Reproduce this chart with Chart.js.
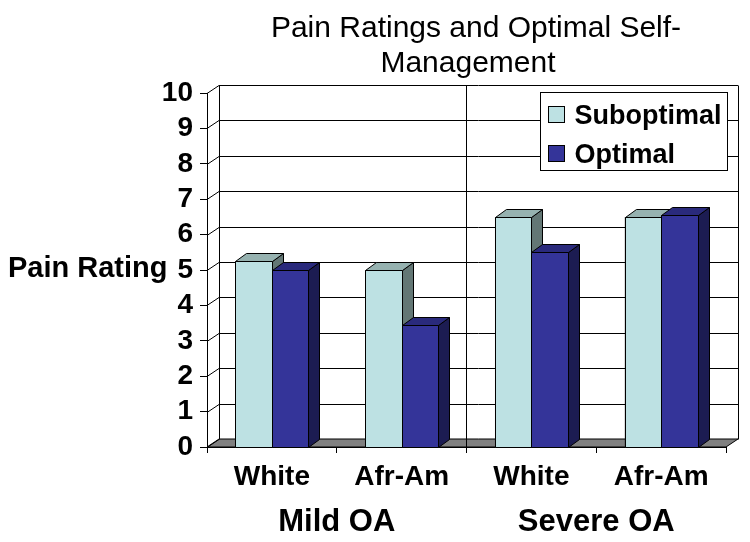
<!DOCTYPE html>
<html>
<head>
<meta charset="utf-8">
<script src="https://cdn.jsdelivr.net/npm/chart.js@4.4.1/dist/chart.umd.min.js"></script>
<style>
  html, body { margin: 0; padding: 0; background: #fff; }
</style>
</head>
<body>
<canvas id="c" width="750" height="542"></canvas>
<script>
// data
var categories = ['White', 'Afr-Am', 'White', 'Afr-Am'];
var groups = ['Mild OA', 'Severe OA'];
var seriesNames = ['Suboptimal', 'Optimal'];
var suboptimal = [5.25, 5.0, 6.5, 6.5];
var optimal = [5.0, 3.45, 5.5, 6.55];
var yTicks = [0, 1, 2, 3, 4, 5, 6, 7, 8, 9, 10];
var titleLines = ['Pain Ratings and Optimal Self-', 'Management'];
var yTitle = 'Pain Rating';

var FONT = "'Liberation Sans', Arial, Helvetica, sans-serif";
// wall depth and bar depth (pixels)
var DX = 12, DY = 8;
var BX = 11, BY = 8;
var faces = [
  { front: '#bde1e3', top: '#96b2b0', side: '#637775' },
  { front: '#343499', top: '#2a2a7c', side: '#1c1c52' }
];

function line(ctx, x1, y1, x2, y2) {
  ctx.beginPath();
  ctx.moveTo(x1, y1);
  ctx.lineTo(x2, y2);
  ctx.stroke();
}

function poly(ctx, pts, fill) {
  ctx.beginPath();
  ctx.moveTo(pts[0][0], pts[0][1]);
  for (var i = 1; i < pts.length; i++) ctx.lineTo(pts[i][0], pts[i][1]);
  ctx.closePath();
  ctx.fillStyle = fill;
  ctx.fill();
  ctx.stroke();
}

var depth3d = {
  id: 'depth3d',
  beforeDatasetsDraw: function (chart) {
    var ctx = chart.ctx, a = chart.chartArea;
    var ys = chart.scales.y, xs = chart.scales.x;
    ctx.save();
    ctx.lineWidth = 1;
    ctx.strokeStyle = '#000';
    // floor
    poly(ctx, [[a.left, a.bottom], [a.right, a.bottom], [a.right + DX, a.bottom - DY], [a.left + DX, a.bottom - DY]], '#808080');
    // grid on side wall + back wall
    yTicks.forEach(function (v) {
      var py = Math.round(ys.getPixelForValue(v)) + 0.5;
      line(ctx, a.left, py, a.left + DX, py - DY);
      if (v > 0) line(ctx, a.left + DX, py - DY, a.right + DX, py - DY);
    });
    var top = Math.round(a.top) + 0.5 - DY, bot = Math.round(a.bottom) + 0.5 - DY;
    line(ctx, a.left + DX + 0.5, top, a.left + DX + 0.5, bot);
    line(ctx, a.right + DX + 0.5, top, a.right + DX + 0.5, bot);
    // divider between the two groups
    var mid = Math.round((xs.getPixelForValue(1) + xs.getPixelForValue(2)) / 2) - 0.5;
    line(ctx, mid, top, mid, a.bottom);
    ctx.restore();
  },
  afterDatasetsDraw: function (chart) {
    var ctx = chart.ctx;
    ctx.save();
    ctx.lineWidth = 1;
    ctx.strokeStyle = '#000';
    for (var i = 0; i < categories.length; i++) {
      for (var d = 0; d < chart.data.datasets.length; d++) {
        var el = chart.getDatasetMeta(d).data[i];
        var p = el.getProps(['x', 'y', 'base', 'width'], true);
        var l = Math.round(p.x - p.width / 2) + 0.5, r = Math.round(p.x + p.width / 2) + 0.5;
        var t = Math.round(p.y) + 0.5, b = Math.round(p.base) + 0.5;
        var f = faces[d];
        poly(ctx, [[r, b], [r + BX, b - BY], [r + BX, t - BY], [r, t]], f.side);
        poly(ctx, [[l, t], [r, t], [r + BX, t - BY], [l + BX, t - BY]], f.top);
        poly(ctx, [[l, t], [r, t], [r, b], [l, b]], f.front);
      }
    }
    ctx.restore();
  },
  afterDraw: function (chart) {
    var ctx = chart.ctx, a = chart.chartArea;
    ctx.save();
    ctx.fillStyle = '#000';
    ctx.textBaseline = 'alphabetic';
    // title
    ctx.font = '30px ' + FONT;
    ctx.textAlign = 'center';
    ctx.fillText(titleLines[0], 476, 37);
    ctx.fillText(titleLines[1], 468, 72);
    // y axis title, horizontal
    ctx.font = 'bold 29px ' + FONT;
    ctx.textAlign = 'left';
    ctx.fillText(yTitle, 8, 277);
    // legend box
    var lx = 540.5, ly = Math.round(a.top) - 0.5, lw = 187, lh = 78;
    ctx.fillStyle = '#fff';
    ctx.fillRect(lx, ly, lw, lh);
    ctx.strokeStyle = '#000';
    ctx.lineWidth = 1;
    ctx.strokeRect(lx, ly, lw, lh);
    ctx.font = 'bold 27px ' + FONT;
    chart.data.datasets.forEach(function (ds, k) {
      var sy = ly + 14 + k * 39;
      ctx.fillStyle = faces[k].front;
      ctx.fillRect(lx + 8, sy, 16, 16);
      ctx.strokeRect(lx + 8, sy, 16, 16);
      ctx.fillStyle = '#000';
      ctx.fillText(ds.label, lx + 34, sy + 17);
    });
    ctx.restore();
  }
};

var tickFont = { family: FONT, size: 28, weight: 'bold' };

new Chart(document.getElementById('c'), {
  type: 'bar',
  data: {
    labels: categories,
    datasets: [
      { label: seriesNames[0], data: suboptimal, xAxisID: 'x', backgroundColor: faces[0].front, borderColor: '#000', borderWidth: 1 },
      { label: seriesNames[1], data: optimal, xAxisID: 'x', backgroundColor: faces[1].front, borderColor: '#000', borderWidth: 1 }
    ]
  },
  options: {
    responsive: false,
    animation: false,
    devicePixelRatio: 1,
    categoryPercentage: 0.5626,
    barPercentage: 1,
    layout: { padding: { top: 93, right: 24, left: 0, bottom: 0 } },
    plugins: {
      legend: { display: false },
      title: { display: false },
      tooltip: { enabled: false }
    },
    scales: {
      x: {
        type: 'category',
        position: 'bottom',
        weight: 0,
        grid: { offset: true, drawOnChartArea: false, tickLength: 6, color: '#000' },
        border: { color: '#000' },
        ticks: { color: '#000', font: tickFont, padding: 7, maxRotation: 0, autoSkip: false },
        afterFit: function (s) { s.height = 55; }
      },
      x2: {
        type: 'category',
        position: 'bottom',
        weight: 1,
        labels: groups,
        offset: true,
        grid: { display: false, drawTicks: false },
        border: { display: false },
        ticks: { color: '#000', font: { family: FONT, size: 31, weight: 'bold' }, padding: 2, maxRotation: 0, autoSkip: false },
        afterFit: function (s) { s.height = 40; }
      },
      y: {
        min: 0,
        max: 10,
        ticks: { stepSize: 1, color: '#000', font: tickFont, padding: 7, autoSkip: false },
        grid: { drawOnChartArea: false, tickLength: 7, color: '#000' },
        border: { color: '#000' },
        afterFit: function (s) { s.width = 207; }
      }
    }
  },
  plugins: [depth3d]
});
</script>
</body>
</html>
